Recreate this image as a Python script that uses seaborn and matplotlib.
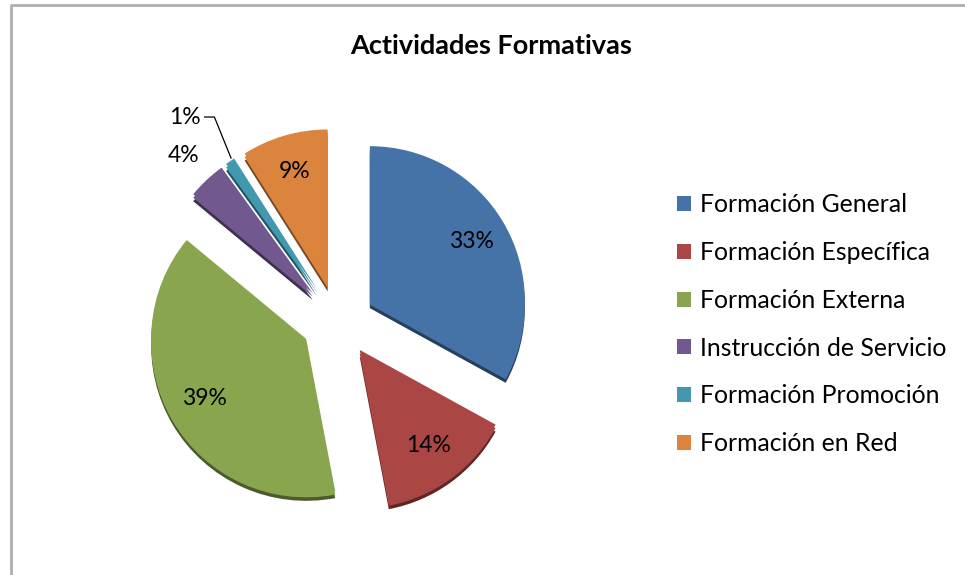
import numpy as np
import matplotlib
matplotlib.use('Agg')
import matplotlib.pyplot as plt
import matplotlib.colors as mcolors
import seaborn as sns

# ------------------------------------------------------------
# data
# ------------------------------------------------------------
categorias = ['Formación General', 'Formación Específica', 'Formación Externa',
              'Instrucción de Servicio', 'Formación Promoción', 'Formación en Red']
porcentajes = [33, 14, 39, 4, 1, 9]
colores = ['#4572A7', '#AA4643', '#89A54E', '#71588F', '#4198AF', '#DB843D']
titulo = 'Actividades Formativas'

sns.set_theme(style='white')
plt.rcParams['font.family'] = ['Lato', 'DejaVu Sans']
plt.rcParams['text.color'] = 'black'

W, H = 965, 575
fig = plt.figure(figsize=(W / 100, H / 100), dpi=100)
ax = fig.add_axes([0, 0, 1, 1])

cx, cy, R = 338, H - 320, 155
sep = 37                      # explode distance in data units (pixels)
explode = [sep] * len(porcentajes)
depth = 7

# darker copy below for the 3D side
oscuros = [tuple(np.array(mcolors.to_rgb(c)) * 0.55) for c in colores]
ax.pie(porcentajes, colors=oscuros, explode=explode, startangle=90,
       counterclock=False, radius=R, center=(cx, cy - depth),
       wedgeprops=dict(linewidth=0))
ax.pie(porcentajes, colors=colores, explode=explode, startangle=90,
       counterclock=False, radius=R, center=(cx, cy - depth / 2),
       wedgeprops=dict(linewidth=0))
wedges, _ = ax.pie(porcentajes, colors=colores, explode=explode, startangle=90,
                   counterclock=False, radius=R, center=(cx, cy),
                   wedgeprops=dict(linewidth=0))

ax.set_xlim(0, W)
ax.set_ylim(0, H)
ax.set_aspect('equal')
ax.axis('off')

# percentage labels
total = sum(porcentajes)
acum = 0
for i, v in enumerate(porcentajes):
    mid = 90 - 360 * (acum + v / 2) / total
    acum += v
    rad = np.deg2rad(mid)
    ox = cx + explode[i] * np.cos(rad)
    oy = cy + explode[i] * np.sin(rad)
    dist = 0.76
    if v == 4:
        dist = 1.22
    elif v == 1:
        dist = 1.4
        rad = np.deg2rad(mid + 3.2)
    tx = ox + dist * R * np.cos(rad)
    ty = oy + dist * R * np.sin(rad)
    ax.text(tx, ty, f'{v}%', ha='center', va='center', fontsize=16.5, color='black')
    if v == 1:
        # leader line to the small slice
        px = ox + 1.0 * R * np.cos(np.deg2rad(mid))
        py = oy + 1.0 * R * np.sin(np.deg2rad(mid))
        ax.plot([tx + 19, tx + 29, px + 1], [ty, ty, py + 3],
                color='black', lw=0.9)

ax.text(491, H - 46, titulo, ha='center', va='center', fontsize=19.5,
        fontweight='bold', color='black')

leg = ax.legend(wedges, categorias, loc='upper left', frameon=False,
                bbox_to_anchor=(665 / W, 1 - 181 / H), fontsize=17.8,
                handlelength=0.55, handleheight=0.55, handletextpad=0.35,
                labelspacing=1.0, borderpad=0, labelcolor='black')

# chart frame
ax.plot([11, 11, W], [0, H - 5, H - 5], color='#AFAFAF', lw=2, solid_capstyle='butt')

fig.savefig('out.png', dpi=100)
